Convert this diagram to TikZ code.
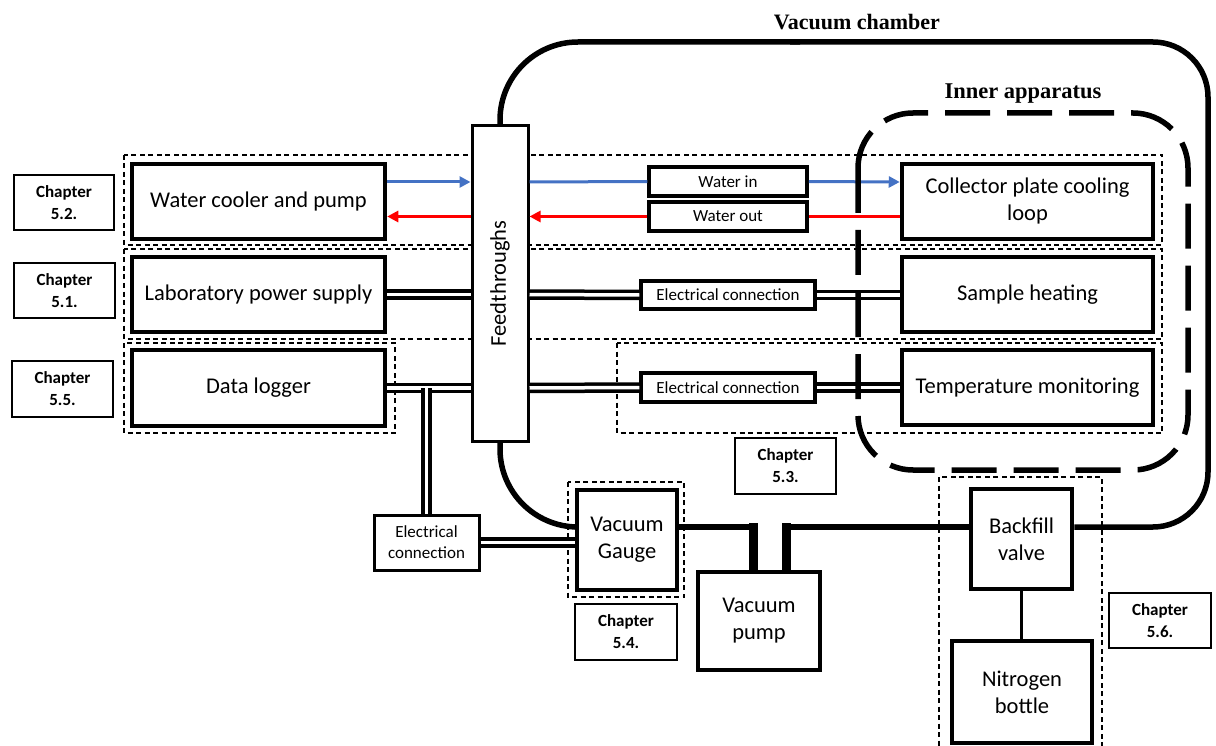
\documentclass[tikz,border=0pt]{standalone}
\usepackage{fontspec}
\setmainfont{Carlito}
\newfontfamily\tnr{Liberation Serif}
\usetikzlibrary{arrows.meta}
\definecolor{wblue}{HTML}{4472C4}
\definecolor{wred}{HTML}{FF0000}
\pgfdeclarelayer{bg}
\pgfsetlayers{bg,main}
\begin{document}
\begin{tikzpicture}[x=1pt,y=-1pt,
 bigbox/.style={draw, line width=4.5pt, fill=white, inner sep=0pt, align=center, font=\fontsize{22.5}{27}\selectfont},
 midbox/.style={draw, line width=3.5pt, fill=white, inner sep=0pt, align=center, font=\fontsize{17}{21}\selectfont},
 chapbox/.style={draw, line width=1.3pt, fill=white, inner sep=0pt, align=center, font=\bfseries\fontsize{17}{22}\selectfont},
 dashbox/.style={draw, line width=1.3pt, dash pattern=on 5pt off 3.5pt},
 chamber/.style={draw, line width=5.5pt},
 neck/.style={draw, line width=9pt},
 elecline/.style={draw, line width=3.5pt, double=white, double distance=3.5pt},
 bluearrow/.style={draw=wblue, line width=3pt},
 redarrow/.style={draw=wred, line width=3pt},
 tip/.style={-{Triangle[length=11pt,width=11pt]}},
 innerbox/.style={draw, line width=5.5pt, dash pattern=on 45pt off 17pt, rounded corners=55pt},
 thinline/.style={draw, line width=3.5pt}
]
\useasboundingbox (0,0) rectangle (1216,746);

% titles
\node[font=\tnr\bfseries\fontsize{22}{26}\selectfont] (title) at (857,22) {Vacuum chamber};
\node[font=\tnr\bfseries\fontsize{22.5}{27}\selectfont] (innertitle) at (1023,94) {Inner apparatus};

% main boxes
\node[bigbox, minimum width=253pt, minimum height=75pt] (water) at (258.5,201.5) {Water cooler and pump};
\node[bigbox, minimum width=253pt, minimum height=75pt] (power) at (258.5,294.5) {Laboratory power supply};
\node[bigbox, minimum width=253pt, minimum height=76pt] (logger) at (258.5,388) {Data logger};
\node[bigbox, minimum width=251pt, minimum height=75pt] (collector) at (1027.5,201.5) {Collector plate cooling\\loop};
\node[bigbox, minimum width=251pt, minimum height=75pt] (sample) at (1027.5,294.5) {Sample heating};
\node[bigbox, minimum width=251pt, minimum height=75pt] (temp) at (1027.5,387.5) {Temperature monitoring};
\node[bigbox, minimum width=100pt, minimum height=100pt] (gauge) at (627,540) {Vacuum\\Gauge};
\node[bigbox, minimum width=122pt, minimum height=98pt] (pump) at (759,621) {Vacuum\\pump};
\node[bigbox, minimum width=101pt, minimum height=100pt] (backfill) at (1021.5,539) {Backfill\\valve};
\node[bigbox, minimum width=140pt, minimum height=102pt] (nitrogen) at (1022,692) {Nitrogen\\bottle};

% feedthroughs
\node[draw, line width=3pt, fill=white, minimum width=56pt, minimum height=315pt, inner sep=0pt] (feed) at (500,283.5) {};
\node[rotate=90, font=\fontsize{22.5}{27}\selectfont] (feedtext) at (feed.center) {Feedthroughs};

% middle boxes
\node[midbox, minimum width=158pt, minimum height=29pt] (waterin) at (728,181.5) {Water in};
\node[midbox, minimum width=158pt, minimum height=29pt] (waterout) at (728,216.5) {Water out};
\node[midbox, minimum width=174pt, minimum height=28pt] (elecA) at (728,295) {Electrical connection};
\node[midbox, minimum width=174pt, minimum height=29pt] (elecB) at (728,387.5) {Electrical connection};
\node[midbox, line width=3pt, minimum width=105pt, minimum height=55pt] (elecC) at (426.5,542.5) {Electrical\\connection};

% chapter boxes
\node[chapbox, minimum width=100pt, minimum height=55pt] (c52) at (64,202.5) {Chapter\\5.2.};
\node[chapbox, minimum width=101pt, minimum height=55pt] (c51) at (64.5,290.5) {Chapter\\5.1.};
\node[chapbox, minimum width=101pt, minimum height=56pt] (c55) at (62.5,389) {Chapter\\5.5.};
\node[chapbox, minimum width=101pt, minimum height=56pt] (c53) at (785.5,466) {Chapter\\5.3.};
\node[chapbox, minimum width=102pt, minimum height=56pt] (c54) at (626,632) {Chapter\\5.4.};
\node[chapbox, minimum width=102pt, minimum height=55pt] (c56) at (1160,620.5) {Chapter\\5.6.};

% dashed grouping boxes
\begin{pgfonlayer}{bg}
\draw[dashbox] (124,155) rectangle (1162,245);
\draw[dashbox] (124,249) rectangle (1162,339);
\draw[dashbox] (124,343) rectangle (395,433);
\draw[dashbox] (617,343) rectangle (1162,433);
\draw[dashbox] (568,482) rectangle (684,597);
\draw[dashbox] (939,477) rectangle (1102,760);
\end{pgfonlayer}

% vacuum chamber outline
\draw[chamber] (feed.north) [rounded corners=78pt] -- (500,42) -- (800,42);
\draw[chamber] (790,42) [rounded corners=55pt] -- (1208,42) -- (1208,527) -- (backfill.east |- 0,527);
\draw[chamber] (feed.south) [rounded corners=78pt] -- (500,527) -- (gauge.west |- 0,527);
\draw[chamber] (gauge.east |- 0,527) -- (757,527);
\draw[neck] (753,523) -- (pump.north -| 753,0);
\draw[neck] (786,523) -- (pump.north -| 786,0);
\draw[chamber] (782,527) -- (backfill.west |- 0,527);
\draw[thinline] (backfill.south) -- (backfill.south |- nitrogen.north);

% water lines
\draw[bluearrow, tip] (water.east |- 0,182) -- (feed.west |- 0,182);
\draw[bluearrow] (feed.east |- 0,182) -- (waterin.west);
\draw[bluearrow, tip] (waterin.east) -- (collector.west |- 0,182);
\draw[redarrow] (collector.west |- 0,216.5) -- (waterout.east);
\draw[redarrow, tip] (waterout.west) -- (feed.east |- 0,216.5);
\draw[redarrow, tip] (feed.west |- 0,216.5) -- (water.east |- 0,216.5);

% electrical lines
\draw[elecline] (power.east) -- (power.east -| feed.west);
\draw[elecline] (feed.east |- power.east) -- (elecA.west);
\draw[elecline] (elecA.east) -- (sample.west |- elecA.east);
\draw[elecline] (logger.east) -- (logger.east -| feed.west);
\draw[elecline] (feed.east |- logger.east) -- (elecB.west);
\draw[elecline] (elecB.east) -- (temp.west |- elecB.east);
\draw[elecline] (logger.east -| elecC.north) -- (elecC.north);
\draw[elecline] (elecC.east) -- (elecC.east -| gauge.west);

% inner apparatus
\draw[innerbox] (858,113) rectangle (1188,470);
\end{tikzpicture}
\end{document}
